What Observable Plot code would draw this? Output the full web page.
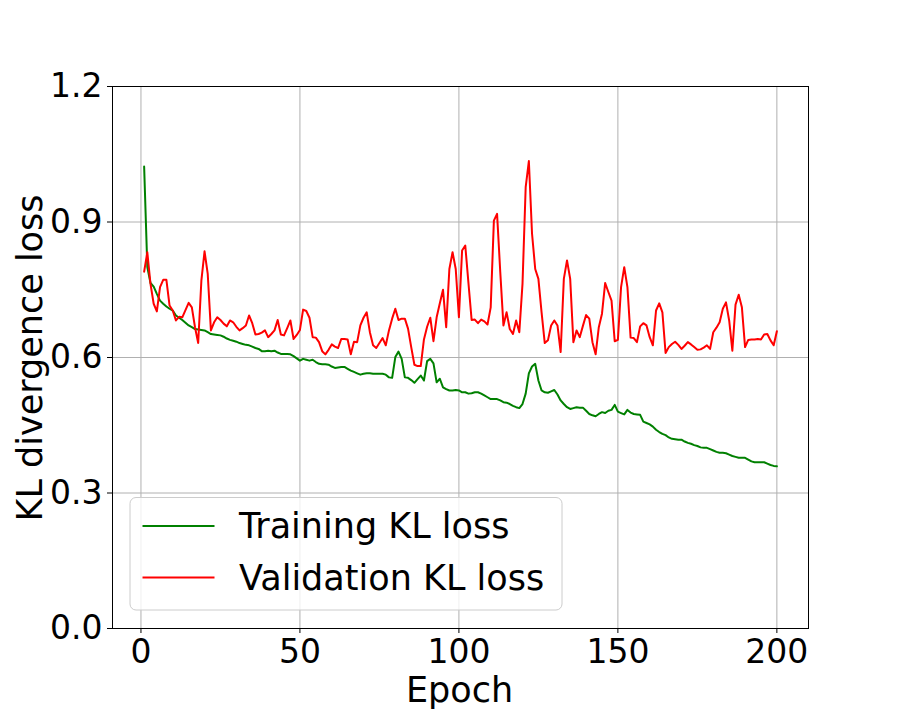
<!DOCTYPE html>
<html>
<head>
<meta charset="utf-8">
<script src="https://cdn.jsdelivr.net/npm/d3@7"></script>
<script src="https://cdn.jsdelivr.net/npm/@observablehq/plot@0.6"></script>
<style>
  html, body { margin: 0; padding: 0; background: #fff; }
  svg { display: block; }
</style>
</head>
<body>
<div id="chart"></div>
<script>
const xTicks = [0, 50, 100, 150, 200];
const yTicks = [0, 0.3, 0.6, 0.9, 1.2];
const seriesNames = ["Training KL loss", "Validation KL loss"];
const seriesColors = ["green", "red"];

const training = [
  1.023,0.80,0.765,0.757,0.741,0.726,0.719,0.713,0.708,0.704,
  0.693,0.688,0.683,0.677,0.671,0.667,0.663,0.662,0.661,0.66,
  0.656,0.652,0.651,0.65,0.649,0.646,0.642,0.639,0.637,0.635,
  0.632,0.63,0.628,0.627,0.624,0.621,0.619,0.614,0.614,0.615,
  0.614,0.615,0.611,0.608,0.608,0.608,0.607,0.603,0.598,0.593,
  0.597,0.595,0.593,0.595,0.59,0.586,0.585,0.585,0.584,0.58,
  0.577,0.578,0.579,0.579,0.575,0.571,0.568,0.565,0.562,0.564,
  0.565,0.565,0.564,0.564,0.564,0.564,0.562,0.556,0.555,0.601,
  0.613,0.597,0.556,0.555,0.55,0.544,0.552,0.56,0.549,0.592,
  0.597,0.587,0.545,0.553,0.534,0.53,0.527,0.527,0.528,0.527,
  0.523,0.523,0.52,0.521,0.523,0.523,0.52,0.516,0.512,0.508,
  0.508,0.508,0.505,0.501,0.5,0.497,0.493,0.49,0.488,0.497,
  0.52,0.565,0.58,0.586,0.549,0.527,0.523,0.522,0.525,0.528,
  0.518,0.505,0.497,0.49,0.486,0.488,0.49,0.489,0.489,0.482,
  0.475,0.472,0.47,0.475,0.479,0.477,0.482,0.484,0.495,0.48,
  0.477,0.474,0.484,0.478,0.475,0.474,0.473,0.458,0.455,0.452,
  0.447,0.44,0.435,0.431,0.428,0.423,0.42,0.419,0.418,0.418,
  0.414,0.411,0.409,0.406,0.404,0.401,0.40,0.40,0.397,0.394,
  0.391,0.389,0.389,0.388,0.385,0.382,0.38,0.378,0.378,0.378,
  0.374,0.37,0.368,0.368,0.368,0.368,0.365,0.362,0.36,0.359
];

const validation = [
  0.79,0.833,0.763,0.719,0.702,0.756,0.772,0.772,0.715,0.704,
  0.682,0.69,0.689,0.705,0.721,0.711,0.667,0.632,0.77,0.835,
  0.785,0.66,0.678,0.689,0.683,0.675,0.669,0.682,0.678,0.668,
  0.66,0.665,0.671,0.693,0.676,0.651,0.652,0.655,0.66,0.645,
  0.652,0.66,0.683,0.651,0.649,0.665,0.682,0.641,0.65,0.661,
  0.706,0.703,0.688,0.645,0.644,0.634,0.614,0.607,0.617,0.629,
  0.624,0.621,0.641,0.641,0.64,0.607,0.635,0.634,0.671,0.688,
  0.70,0.656,0.627,0.621,0.632,0.643,0.627,0.66,0.686,0.708,
  0.683,0.686,0.686,0.664,0.623,0.584,0.581,0.581,0.64,0.668,
  0.688,0.636,0.689,0.72,0.75,0.667,0.796,0.833,0.796,0.689,
  0.837,0.848,0.765,0.683,0.684,0.676,0.684,0.68,0.673,0.711,
  0.903,0.918,0.79,0.671,0.70,0.663,0.652,0.682,0.656,0.763,
  0.977,1.035,0.874,0.796,0.774,0.70,0.632,0.638,0.671,0.682,
  0.671,0.612,0.774,0.815,0.774,0.634,0.66,0.645,0.67,0.694,
  0.686,0.634,0.607,0.667,0.697,0.765,0.745,0.726,0.636,0.639,
  0.756,0.80,0.756,0.644,0.643,0.634,0.669,0.676,0.671,0.645,
  0.627,0.704,0.72,0.70,0.61,0.623,0.63,0.635,0.628,0.619,
  0.626,0.634,0.629,0.623,0.617,0.618,0.622,0.627,0.619,0.656,
  0.666,0.678,0.708,0.722,0.682,0.615,0.717,0.739,0.711,0.623,
  0.639,0.64,0.64,0.641,0.64,0.651,0.652,0.638,0.627,0.658
];

const epochs = training.map((_, i) => i + 1);
const trainData = epochs.map((e, i) => ({epoch: e, loss: training[i]}));
const valData = epochs.map((e, i) => ({epoch: e, loss: validation[i]}));

const W = 897, H = 718;
const mL = 112, mR = 89, mT = 86, mB = 90;
const FONT = "DejaVu Sans, Liberation Sans, sans-serif";
const FS = 33;   // tick labels
const LFS = 35;  // axis titles and legend

const plot = Plot.plot({
  width: W,
  height: H,
  marginLeft: mL,
  marginRight: mR,
  marginTop: mT,
  marginBottom: mB,
  style: {fontFamily: FONT, fontSize: FS + "px", background: "#fff", color: "#000", overflow: "visible"},
  x: {domain: [-8.95, 209.95]},
  y: {domain: [0, 1.2]},
  marks: [
    Plot.gridX(xTicks, {stroke: "#b0b0b0", strokeOpacity: 1, strokeWidth: 1}),
    Plot.gridY(yTicks, {stroke: "#b0b0b0", strokeOpacity: 1, strokeWidth: 1}),
    Plot.line(trainData, {x: "epoch", y: "loss", stroke: seriesColors[0], strokeWidth: 2}),
    Plot.line(valData, {x: "epoch", y: "loss", stroke: seriesColors[1], strokeWidth: 2}),
    Plot.axisX({ticks: xTicks, tickSize: 5, tickPadding: 6, label: null, fontSize: FS, tickFormat: d => String(d)}),
    Plot.axisY({ticks: yTicks, tickSize: 5, tickPadding: 5, label: null, fontSize: FS, tickFormat: d => d.toFixed(1)}),
    Plot.frame({stroke: "#000", strokeWidth: 1})
  ]
});

document.getElementById("chart").appendChild(plot);

const svg = d3.select(plot);
// axis titles
svg.append("text")
  .attr("x", 459.5)
  .attr("y", 701.5)
  .attr("text-anchor", "middle")
  .attr("font-family", FONT)
  .attr("font-size", LFS)
  .attr("fill", "#000")
  .text("Epoch");
svg.append("text")
  .attr("transform", `translate(42, ${(mT + (H - mB)) / 2 + 1}) rotate(-90)`)
  .attr("text-anchor", "middle")
  .attr("font-family", FONT)
  .attr("font-size", LFS)
  .attr("fill", "#000")
  .text("KL divergence loss");

// legend (inside plot, lower left)
const lg = svg.append("g");
lg.append("rect")
  .attr("x", 130).attr("y", 497.5)
  .attr("width", 432).attr("height", 112.5)
  .attr("rx", 6).attr("ry", 6)
  .attr("fill", "#fff").attr("fill-opacity", 0.8)
  .attr("stroke", "#cccccc").attr("stroke-width", 1);
const rows = [526, 577.5];
seriesNames.forEach((name, i) => {
  lg.append("line")
    .attr("x1", 142.5).attr("x2", 214.5)
    .attr("y1", rows[i]).attr("y2", rows[i])
    .attr("stroke", seriesColors[i]).attr("stroke-width", 2);
  lg.append("text")
    .attr("x", 239).attr("y", rows[i] + 12.3)
    .attr("text-anchor", "start")
    .attr("font-family", FONT).attr("font-size", LFS)
    .attr("fill", "#000")
    .text(name);
});
</script>
</body>
</html>
